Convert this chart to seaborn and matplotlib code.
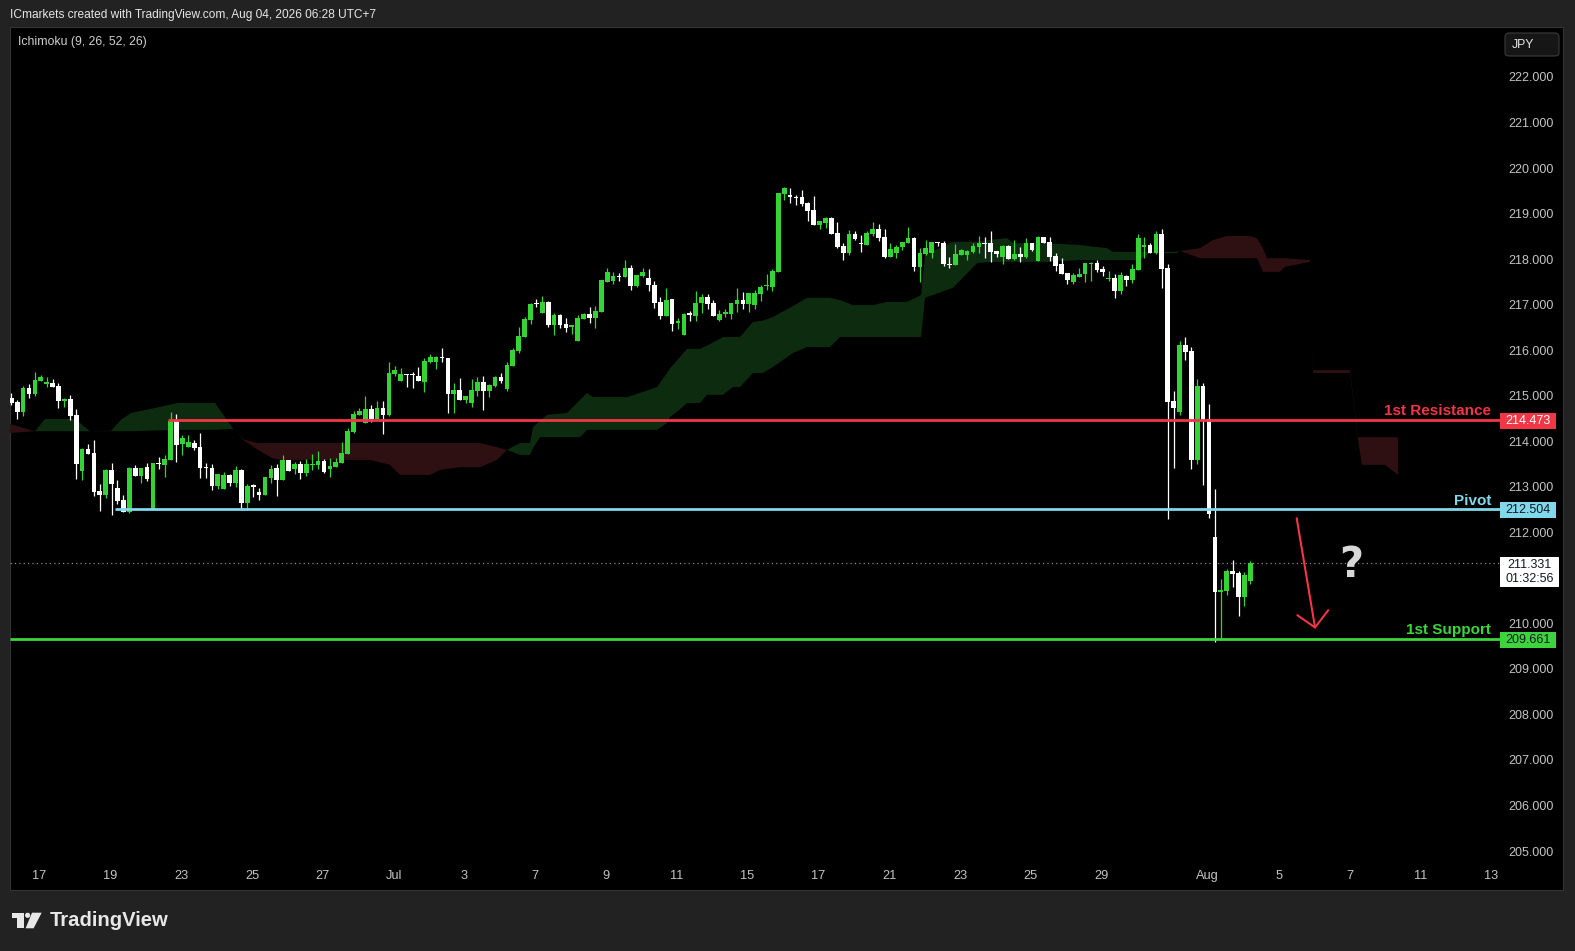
import numpy as np
import pandas as pd
import matplotlib
matplotlib.use("Agg")
import matplotlib.pyplot as plt
import seaborn as sns
from matplotlib.patches import Rectangle, FancyBboxPatch, Polygon, Circle
from matplotlib.transforms import blended_transform_factory, IdentityTransform

# ---------------- data (4H candles) ----------------
opens = [214.96, 214.87, 214.65, 215.18, 215.04, 215.33, 215.25, 215.29, 215.21, 214.89,
         214.92, 214.57, 213.35, 213.83, 213.74, 212.90, 212.82, 213.36, 212.97, 212.71,
         212.45, 213.41, 213.23, 213.43, 212.51, 213.51, 213.47, 213.58, 214.44, 213.94,
         213.88, 213.96, 213.87, 213.43, 213.41, 213.02, 212.95, 213.26, 213.09, 213.37,
         212.65, 213.02, 212.89, 212.82, 213.20, 213.41, 213.15, 213.59, 213.39, 213.50,
         213.31, 213.48, 213.48, 213.57, 213.39, 213.43, 213.52, 213.72, 214.20, 214.58,
         214.41, 214.71, 214.49, 214.73, 214.58, 215.48, 215.32, 215.48, 215.46, 215.43,
         215.31, 215.75, 215.73, 215.84, 215.83, 215.04, 215.13, 214.91, 214.83, 215.10,
         215.30, 215.10, 215.21, 215.41, 215.15, 215.65, 215.98, 216.29, 216.66, 217.04,
         216.82, 217.06, 216.55, 216.77, 216.57, 216.52, 216.20, 216.68, 216.79, 216.71,
         216.84, 217.50, 217.52, 217.63, 217.61, 217.80, 217.41, 217.63, 217.59, 217.44,
         217.06, 216.75, 217.12, 216.60, 216.33, 216.82, 216.75, 217.04, 217.17, 217.04,
         216.66, 216.80, 216.80, 217.02, 217.10, 217.02, 216.99, 217.23, 217.41, 217.39,
         217.72, 219.43, 219.39, 219.37, 219.37, 219.23, 219.08, 218.75, 218.79, 218.90,
         218.57, 218.29, 218.14, 218.55, 218.35, 218.31, 218.55, 218.66, 218.49, 218.05,
         218.13, 218.27, 218.35, 218.46, 217.83, 218.11, 218.13, 218.38, 218.35, 217.89,
         217.87, 218.09, 218.09, 218.16, 218.27, 218.35, 218.35, 218.18, 218.05, 218.29,
         218.00, 218.11, 218.05, 218.35, 217.96, 218.49, 218.38, 218.07, 217.89, 217.70,
         217.50, 217.61, 217.67, 217.89, 217.91, 217.78, 217.56, 217.59, 217.30, 217.63,
         217.54, 217.76, 218.27, 218.31, 218.13, 218.55, 217.80, 214.88, 214.65, 216.11,
         215.98, 213.59, 215.21, 214.49, 211.90, 210.68, 210.71, 211.15, 211.11, 210.57,
         210.92]
highs = [215.07, 214.90, 215.21, 215.25, 215.52, 215.45, 215.40, 215.36, 215.27, 214.96,
         215.01, 214.70, 213.85, 213.94, 214.02, 213.06, 213.39, 213.52, 213.15, 212.82,
         213.44, 213.47, 213.42, 213.52, 213.52, 213.65, 213.69, 214.64, 214.59, 214.13,
         214.13, 214.02, 214.18, 213.52, 213.50, 213.29, 213.32, 213.28, 213.46, 213.39,
         213.06, 213.06, 212.97, 213.22, 213.48, 213.50, 213.70, 213.59, 213.54, 213.56,
         213.61, 213.72, 213.79, 213.61, 213.63, 213.63, 213.98, 214.29, 214.66, 214.73,
         214.99, 214.80, 214.88, 214.88, 215.74, 215.65, 215.61, 215.48, 215.52, 215.63,
         215.83, 215.92, 215.87, 216.05, 215.83, 215.28, 215.39, 215.00, 215.37, 215.41,
         215.43, 215.26, 215.43, 215.50, 215.74, 216.05, 216.51, 216.73, 217.04, 217.12,
         217.19, 217.08, 216.82, 216.79, 216.71, 216.55, 216.77, 216.82, 216.95, 216.97,
         217.54, 217.80, 217.72, 217.69, 217.98, 217.87, 217.65, 217.81, 217.78, 217.52,
         217.17, 217.37, 217.12, 216.71, 216.82, 216.86, 217.30, 217.23, 217.23, 217.10,
         216.88, 216.91, 217.04, 217.37, 217.28, 217.26, 217.32, 217.43, 217.67, 217.78,
         219.45, 219.58, 219.56, 219.41, 219.52, 219.26, 219.39, 218.84, 218.93, 218.93,
         218.82, 218.35, 218.64, 218.62, 218.53, 218.62, 218.82, 218.77, 218.66, 218.35,
         218.31, 218.38, 218.71, 218.49, 218.24, 218.42, 218.38, 218.38, 218.40, 218.05,
         218.33, 218.22, 218.20, 218.35, 218.51, 218.49, 218.62, 218.18, 218.31, 218.31,
         218.42, 218.27, 218.46, 218.35, 218.51, 218.49, 218.49, 218.13, 218.02, 217.70,
         217.70, 217.80, 217.91, 217.94, 217.98, 217.85, 217.74, 217.67, 217.72, 217.65,
         217.89, 218.55, 218.49, 218.35, 218.62, 218.66, 217.89, 215.10, 216.20, 216.29,
         216.07, 215.37, 215.28, 214.82, 212.95, 210.97, 211.19, 211.39, 211.14, 211.13,
         211.37]
lows = [214.79, 214.48, 214.56, 214.95, 215.00, 215.33, 215.19, 215.19, 214.73, 214.76,
        214.46, 213.17, 213.15, 213.72, 212.79, 212.47, 212.76, 212.38, 212.63, 212.45,
        212.43, 213.23, 213.09, 213.13, 212.51, 213.39, 213.22, 213.58, 213.55, 213.69,
        213.88, 213.80, 213.20, 213.20, 212.93, 212.95, 212.95, 213.02, 213.00, 212.52,
        212.49, 212.78, 212.71, 212.82, 213.08, 212.80, 213.15, 213.35, 213.27, 213.17,
        213.24, 213.37, 213.39, 213.31, 213.22, 213.43, 213.52, 213.72, 214.17, 214.58,
        214.41, 214.42, 214.49, 214.16, 214.56, 215.44, 215.32, 215.20, 215.18, 215.33,
        215.09, 215.71, 215.59, 215.75, 214.63, 214.61, 214.91, 214.85, 214.76, 215.00,
        214.69, 214.98, 215.19, 215.28, 215.10, 215.65, 215.94, 216.29, 216.57, 216.95,
        216.82, 216.51, 216.33, 216.49, 216.40, 216.36, 216.20, 216.68, 216.60, 216.49,
        216.84, 217.50, 217.45, 217.52, 217.61, 217.32, 217.39, 217.61, 217.30, 216.93,
        216.69, 216.75, 216.42, 216.47, 216.33, 216.64, 216.64, 216.82, 216.91, 216.75,
        216.64, 216.73, 216.69, 216.84, 216.91, 216.84, 216.91, 217.08, 217.32, 217.30,
        217.72, 219.30, 219.23, 219.19, 219.17, 218.84, 218.75, 218.66, 218.68, 218.55,
        218.25, 217.98, 218.08, 218.42, 218.16, 218.31, 218.51, 218.40, 218.03, 218.05,
        218.03, 218.20, 218.35, 217.74, 217.50, 218.09, 218.03, 218.29, 217.85, 217.81,
        217.87, 218.09, 217.98, 218.13, 218.13, 218.03, 217.94, 218.05, 217.89, 218.00,
        217.98, 217.94, 218.03, 218.18, 217.96, 218.35, 217.96, 217.74, 217.67, 217.45,
        217.45, 217.61, 217.50, 217.52, 217.72, 217.63, 217.52, 217.15, 217.23, 217.41,
        217.48, 217.76, 218.02, 218.13, 218.11, 217.37, 212.29, 213.42, 214.58, 215.78,
        213.39, 213.50, 213.04, 212.32, 209.60, 209.64, 210.62, 210.80, 210.16, 210.38,
        210.87]
closes = [214.83, 214.65, 215.18, 215.03, 215.34, 215.40, 215.30, 215.19, 214.89, 214.92,
          214.56, 213.50, 213.83, 213.72, 212.89, 212.82, 213.36, 213.06, 212.69, 212.45,
          213.42, 213.23, 213.42, 213.18, 213.52, 213.50, 213.61, 214.44, 213.91, 214.08,
          213.98, 213.85, 213.42, 213.41, 213.02, 213.28, 213.26, 213.09, 213.37, 212.65,
          213.02, 213.00, 212.82, 213.22, 213.39, 213.15, 213.59, 213.35, 213.50, 213.31,
          213.50, 213.50, 213.57, 213.32, 213.46, 213.55, 213.74, 214.23, 214.60, 214.67,
          214.71, 214.49, 214.73, 214.58, 215.50, 215.57, 215.48, 215.45, 215.45, 215.33,
          215.76, 215.84, 215.84, 215.82, 215.04, 215.13, 214.91, 215.00, 215.13, 215.30,
          215.10, 215.24, 215.41, 215.32, 215.67, 216.00, 216.31, 216.68, 217.01, 217.01,
          217.06, 216.55, 216.77, 216.55, 216.49, 216.53, 216.71, 216.79, 216.71, 216.86,
          217.54, 217.72, 217.63, 217.61, 217.80, 217.41, 217.65, 217.72, 217.43, 217.04,
          216.75, 217.10, 216.58, 216.62, 216.80, 216.77, 217.04, 217.17, 217.02, 216.75,
          216.80, 216.83, 217.04, 217.10, 217.02, 217.26, 217.26, 217.39, 217.43, 217.74,
          219.45, 219.56, 219.37, 219.34, 219.21, 219.06, 218.75, 218.84, 218.90, 218.55,
          218.27, 218.14, 218.55, 218.44, 218.33, 218.57, 218.66, 218.46, 218.05, 218.22,
          218.27, 218.38, 218.46, 217.83, 218.13, 218.24, 218.38, 218.35, 217.89, 217.87,
          218.11, 218.20, 218.18, 218.29, 218.35, 218.33, 218.16, 218.11, 218.29, 218.00,
          218.11, 218.05, 218.35, 218.20, 218.49, 218.35, 218.05, 217.85, 217.67, 217.54,
          217.65, 217.67, 217.91, 217.91, 217.76, 217.72, 217.59, 217.30, 217.65, 217.54,
          217.78, 218.46, 218.31, 218.13, 218.55, 217.78, 214.87, 214.74, 216.11, 215.96,
          213.59, 215.21, 214.47, 212.41, 210.68, 210.73, 211.15, 211.09, 210.57, 211.06,
          211.331]

# Ichimoku cloud (Senkou span A / B), read at sample bars
cloud_x = [-0.22, 4.0, 5.71, 10.80, 13.34, 16.90, 18.59, 20.29, 28.25, 34.53,
           37.58, 39.61, 41.81, 44.19, 45.88, 56.56, 60.80, 64.19, 65.88, 70.97,
           72.66, 76.05, 79.44, 82.32, 84.02, 86.22, 87.92, 88.42, 89.61, 90.80,
           94.19, 96.39, 97.58, 98.59, 104.36, 106.56, 109.44, 111.14, 111.64, 113.34,
           114.53, 116.73, 117.92, 120.63, 122.32, 123.51, 125.71, 127.41, 129.10, 132.49,
           134.86, 138.76, 140.46, 142.66, 146.05, 148.42, 151.81, 154.20, 154.86, 159.61,
           163.68, 165.88, 168.76, 169.78, 175.54, 181.14, 185.71, 186.73, 190.80, 193.00,
           197.58, 198.08, 201.47, 203.68, 206.05, 209.95, 211.14, 212.15, 212.83, 215.03,
           215.88, 220.12, 220.63, 226.90, 228.25, 228.93, 232.83, 235.03]
span_a = [214.18, 214.22, 214.49, 214.49, 214.22, 214.23, 214.47, 214.62, 214.84, 214.84,
          214.28, 214.00, 213.81, 213.63, 213.59, 213.59, 213.59, 213.48, 213.26, 213.26,
          213.37, 213.43, 213.43, 213.59, 213.81, 213.96, 213.96, 214.31, 214.45, 214.58,
          214.62, 214.91, 215.06, 214.97, 214.97, 215.06, 215.19, 215.50, 215.60, 215.85,
          216.03, 216.03, 216.10, 216.29, 216.29, 216.29, 216.62, 216.65, 216.73, 216.97,
          217.15, 217.15, 217.10, 216.99, 216.99, 217.06, 217.06, 217.21, 218.09, 218.38,
          218.38, 218.42, 218.46, 218.35, 218.35, 218.31, 218.24, 218.16, 218.16, 218.16,
          218.16, 218.18, 218.02, 218.02, 218.02, 218.02, 218.02, 217.72, 217.72, 217.72,
          217.83, 217.94, 215.50, 215.50, 214.03, 213.48, 213.48, 213.26]
span_b = [214.38, 214.22, 214.22, 214.22, 214.22, 214.22, 214.22, 214.22, 214.25, 214.25,
          214.27, 214.03, 213.96, 213.96, 213.96, 213.96, 213.96, 213.96, 213.96, 213.96,
          213.96, 213.96, 213.96, 213.87, 213.81, 213.70, 213.70, 213.85, 214.09, 214.09,
          214.09, 214.09, 214.25, 214.25, 214.25, 214.25, 214.25, 214.40, 214.53, 214.70,
          214.84, 214.84, 215.02, 215.02, 215.19, 215.19, 215.50, 215.50, 215.63, 215.94,
          216.07, 216.07, 216.29, 216.29, 216.29, 216.29, 216.29, 216.29, 217.15, 217.37,
          217.91, 217.94, 217.94, 217.94, 217.94, 217.98, 217.98, 217.98, 217.98, 218.13,
          218.13, 218.18, 218.24, 218.42, 218.51, 218.51, 218.46, 218.24, 218.02, 218.02,
          218.02, 217.98, 215.56, 215.56, 214.09, 214.09, 214.09, 214.09]

# time axis
date_tick_pos = [4.8, 16.8, 28.8, 40.8, 52.8, 64.8, 76.8, 88.8, 100.8, 112.8, 124.8,
                 136.8, 148.8, 160.8, 172.8, 184.8, 202.8, 214.8, 226.8, 238.8, 250.8]
date_tick_labels = ["17", "19", "23", "25", "27", "Jul", "3", "7", "9", "11", "15",
                    "17", "21", "23", "25", "29", "Aug", "5", "7", "11", "13"]
price_ticks = [205, 206, 207, 208, 209, 210, 212, 213, 214, 215, 216, 217, 218, 219, 220, 221, 222]

# levels
level_names = ["1st Resistance", "Pivot", "1st Support"]
level_values = [214.473, 212.504, 209.661]
level_starts = [26.5, 17.5, -0.22]
current_price = 211.331
countdown = "01:32:56"

# ---------------- style ----------------
BG = "#222222"
UP = "#35d435"
DOWN = "#ffffff"
RED = "#f23645"
CYAN = "#80d8ea"
LGREEN = "#3cd63c"
CLOUD_G = "#0d2c0f"
CLOUD_R = "#2e0f12"
AXTXT = "#c4c4c4"

sns.set_theme(style="dark", rc={"axes.facecolor": "black", "figure.facecolor": BG})
plt.rcParams["font.family"] = ["Liberation Sans", "DejaVu Sans"]

W, H = 1575, 951
fig = plt.figure(figsize=(W / 100, H / 100), dpi=100, facecolor=BG)

def fx(px):
    return px / W

def fy(py):
    return 1 - py / H

# black chart panel
fig.add_artist(Rectangle((10, H - 890), 1553, 863, transform=IdentityTransform(),
                         facecolor="black", edgecolor="#333333", lw=0.8, zorder=0))

ax = fig.add_axes([fx(10), fy(862), fx(1500) - fx(10), fy(28) - fy(862)])
ax.set_facecolor("none")
for s in ax.spines.values():
    s.set_visible(False)
ax.grid(False)

XL, XR = -0.22, 252.32
ax.set_xlim(XL, XR)
ax.set_ylim(204.7586, 223.0762)

# cloud
cx = np.array(cloud_x)
sa = np.array(span_a)
sb = np.array(span_b)
ax.fill_between(cx, sa, sb, where=sa >= sb, interpolate=True, color=CLOUD_G, lw=0, zorder=1)
ax.fill_between(cx, sa, sb, where=sa < sb, interpolate=True, color=CLOUD_R, lw=0, zorder=1)

# candles
df = pd.DataFrame({"open": opens, "high": highs, "low": lows, "close": closes})
df["idx"] = np.arange(len(df))
df["up"] = df["close"] >= df["open"]
cols = np.where(df["up"], UP, DOWN)
ax.vlines(df["idx"], df["low"], df["high"], colors=cols, lw=0.9, zorder=3)
body_lo = np.minimum(df["open"], df["close"])
body_h = np.maximum((df["close"] - df["open"]).abs(), 0.03)
ax.bar(df["idx"], body_h, bottom=body_lo, width=0.8, color=cols, lw=0, zorder=4)

# current price dotted line
ax.hlines(current_price, XL, XR, colors="#8c8c8c", lw=0.9, linestyles=(0, (1, 2.5)), zorder=2)

# key levels
lvl_cols = [RED, CYAN, LGREEN]
bt = blended_transform_factory(ax.transAxes, ax.transData)
box_h = 16 / 45.53
for name, val, x0, c in zip(level_names, level_values, level_starts, lvl_cols):
    ax.hlines(val, x0, XR, colors=c, lw=2.0, zorder=6)
    ax.annotate(name, xy=(1.0, val), xycoords=bt, xytext=(-6.5, 3.4), textcoords="offset points",
                ha="right", va="baseline", color=c, fontsize=11, fontweight="bold", zorder=7)
    ax.add_patch(Rectangle((1.0, val - box_h / 2 - 0.02), 0.0376, box_h, transform=bt,
                           facecolor=c, edgecolor="none", clip_on=False, zorder=8))
    ax.text(1.0188, val - 0.02, f"{val:.3f}", transform=bt, ha="center", va="center",
            color="white" if c == RED else "#131722", fontsize=9, clip_on=False, zorder=9)

# current price tag
ax.add_patch(Rectangle((1.0, current_price - 24.5 / 45.53), 0.0396, 30.5 / 45.53, transform=bt,
                       facecolor="white", edgecolor="none", clip_on=False, zorder=8))
ax.text(1.0198, current_price - 0.05, f"{current_price:.3f}", transform=bt, ha="center",
        va="center", color="#131722", fontsize=9, clip_on=False, zorder=9)
ax.text(1.0198, current_price - 0.36, countdown, transform=bt, ha="center",
        va="center", color="#131722", fontsize=9, clip_on=False, zorder=9)

# projection arrow and question mark
ax.plot([217.86, 220.97], [212.31, 209.91], color=RED, lw=1.5, zorder=6, solid_capstyle="round")
ax.plot([217.97, 220.97, 223.22], [210.18, 209.91, 210.29], color=RED, lw=1.5, zorder=6,
        solid_capstyle="round", solid_joinstyle="round")
ax.text(227.19, 211.29, "?", ha="center", va="center", fontsize=30, fontweight="bold",
        color="#d8d8d8", family=["DejaVu Sans"], zorder=7)

# axes ticks
ax.set_xticks(date_tick_pos)
ax.set_xticklabels(date_tick_labels)
ax.tick_params(axis="x", length=0, pad=6, labelsize=9.2, labelcolor=AXTXT)
ax.yaxis.tick_right()
ax.set_yticks(price_ticks)
ax.set_yticklabels([f"{v:.3f}" for v in price_ticks])
ax.tick_params(axis="y", length=0, pad=6, labelsize=9, labelcolor=AXTXT)

# header / legend texts
fig.text(10, H - 15, "ICmarkets created with TradingView.com, Aug 04, 2026 06:28 UTC+7",
         transform=IdentityTransform(), ha="left", va="center", color="#e6e6e6", fontsize=8.6)
fig.text(18, H - 42, "Ichimoku (9, 26, 52, 26)", transform=IdentityTransform(),
         ha="left", va="center", color="#d0d0d0", fontsize=8.8)

# currency box
fig.add_artist(FancyBboxPatch((1505, H - 56), 54, 23, boxstyle="round,pad=0,rounding_size=4",
                              transform=IdentityTransform(), facecolor="#161616",
                              edgecolor="#3a3a3a", lw=0.8, zorder=5))
fig.text(1512, H - 44.5, "JPY", transform=IdentityTransform(), ha="left", va="center",
         color="#e6e6e6", fontsize=8.8, zorder=6)

# TradingView logo
LOGO = "#e8e8e8"
fig.add_artist(Rectangle((11.7, H - 918.3), 12.3, 5.6, transform=IdentityTransform(),
                         facecolor=LOGO, edgecolor="none"))
fig.add_artist(Rectangle((17.3, H - 928.3), 6.7, 15.6, transform=IdentityTransform(),
                         facecolor=LOGO, edgecolor="none"))
fig.add_artist(Circle((27.6, H - 915.3), 2.6, transform=IdentityTransform(),
                      facecolor=LOGO, edgecolor="none"))
fig.add_artist(Polygon([(32.0, H - 912.7), (41.7, H - 912.7), (33.6, H - 928.3), (25.6, H - 928.3)],
                       closed=True, transform=IdentityTransform(), facecolor=LOGO, edgecolor="none"))
fig.text(50, H - 921, "TradingView", transform=IdentityTransform(), ha="left", va="center",
         color=LOGO, fontsize=14.6, fontweight="bold")

fig.savefig("out.png", dpi=100, facecolor=BG)
